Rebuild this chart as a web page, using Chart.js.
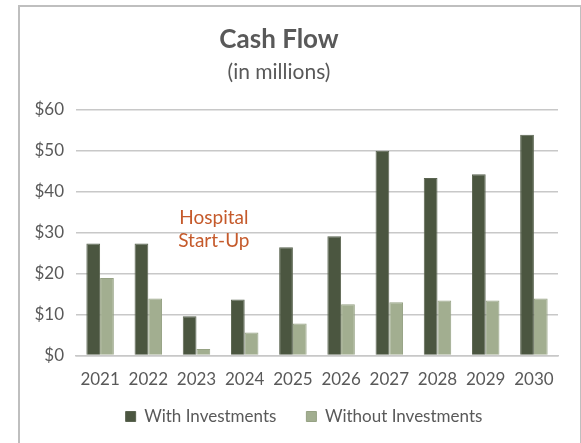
<!DOCTYPE html>
<html>
<head>
<meta charset="utf-8">
<script src="https://cdn.jsdelivr.net/npm/chart.js@4/dist/chart.umd.min.js"></script>
<style>
  html, body { margin: 0; padding: 0; background: #ffffff; }
  #wrap { position: relative; width: 581px; height: 443px; overflow: hidden; }
  #frame { position: absolute; left: 18px; top: 5px; width: 560px; height: 460px; border: 2px solid #bfbfbf; pointer-events: none; }
  canvas { position: absolute; left: 0; top: 0; }
</style>
</head>
<body>
<div id="wrap">
  <canvas id="c" width="581" height="443"></canvas>
  <div id="frame"></div>
</div>
<script>
const years = ["2021","2022","2023","2024","2025","2026","2027","2028","2029","2030"];
const withInvestments = [27.3, 27.3, 9.6, 13.7, 26.4, 29.1, 49.9, 43.3, 44.2, 53.8];
const withoutInvestments = [18.9, 13.9, 1.6, 5.6, 7.8, 12.5, 13.0, 13.4, 13.4, 13.9];
const yTicks = [0, 10, 20, 30, 40, 50, 60];
const annotationLines = ["Hospital", "Start-Up"];

const FONT = "Lato, 'Open Sans', sans-serif";
const GREY = "#595959";

const annotationPlugin = {
  id: "annot",
  afterDatasetsDraw(chart) {
    const { ctx, scales } = chart;
    const x = scales.x.getPixelForValue(2.36);
    const y1 = scales.y.getPixelForValue(33.6);
    const y2 = scales.y.getPixelForValue(27.9);
    ctx.save();
    ctx.fillStyle = "#C55A2B";
    ctx.font = "19px " + FONT;
    ctx.textAlign = "center";
    ctx.textBaseline = "middle";
    ctx.fillText(annotationLines[0], x, y1);
    ctx.fillText(annotationLines[1], x, y2);
    ctx.restore();
  }
};

const legendPlacePlugin = {
  id: "legendPlace",
  beforeInit(chart) {
    const origFit = chart.legend.fit;
    chart.legend.fit = function () {
      origFit.call(this);
      this.height = 39;
    };
  },
  afterLayout(chart) {
    const lg = chart.legend;
    lg.top -= 26;
    lg.left += 25; lg.right += 25;
  }
};

new Chart(document.getElementById("c"), {
  type: "bar",
  data: {
    labels: years,
    datasets: [
      { label: "With Investments", data: withInvestments, backgroundColor: "#4B5640", borderColor: "#5a6450", borderWidth: 1 },
      { label: "Without Investments", data: withoutInvestments, backgroundColor: "#A2AE90", borderColor: "#96a284", borderWidth: 1 }
    ]
  },
  options: {
    responsive: false,
    animation: false,
    devicePixelRatio: 1,
    categoryPercentage: 0.57,
    barPercentage: 1.0,
    layout: { padding: { left: 0, right: 23, top: 0, bottom: 0 } },
    plugins: {
      title: {
        display: true,
        text: "Cash Flow",
        color: GREY,
        font: { family: FONT, size: 26, weight: "bold" },
        padding: { top: 24, bottom: 4 }
      },
      subtitle: {
        display: true,
        text: "(in millions)",
        color: GREY,
        font: { family: FONT, size: 21 },
        padding: { top: 0, bottom: 25 }
      },
      legend: {
        position: "bottom",
        labels: {
          color: GREY,
          font: { family: FONT, size: 17 },
          boxWidth: 10,
          boxHeight: 10,
          padding: 30
        }
      },
      tooltip: { enabled: false }
    },
    scales: {
      x: {
        grid: { display: false, drawTicks: false },
        border: { display: true, color: "#c8c8c8", width: 1.5 },
        ticks: { color: GREY, font: { family: FONT, size: 17 }, padding: 14 }
      },
      y: {
        min: 0,
        max: 60,
        afterFit(scale) { scale.width = 76; },
        afterBuildTicks(scale) { scale.ticks = yTicks.map(v => ({ value: v })); },
        grid: { color: "#c8c8c8", lineWidth: 1.5, drawTicks: false },
        border: { display: false },
        ticks: {
          color: GREY,
          font: { family: FONT, size: 17 },
          padding: 12,
          callback: v => "$" + v
        }
      }
    }
  },
  plugins: [annotationPlugin, legendPlacePlugin]
});
</script>
</body>
</html>
